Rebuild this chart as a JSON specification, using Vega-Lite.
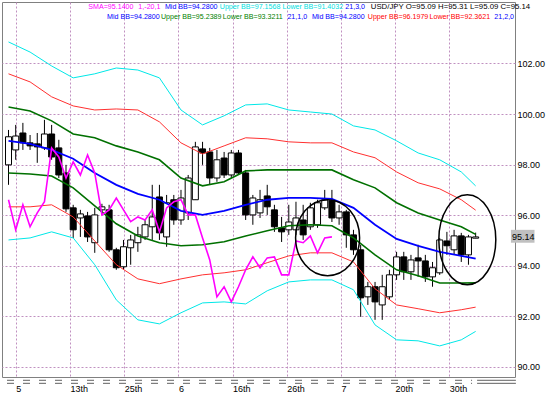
{
  "$schema": "https://vega.github.io/schema/vega-lite/v6.json",
  "width": 513,
  "height": 375,
  "autosize": {"type": "none"},
  "padding": {"left": 2, "top": 2, "right": 39, "bottom": 19},
  "background": "white",
  "config": {
    "view": {"stroke": "#808080", "strokeWidth": 1},
    "text": {"font": "Liberation Sans"}
  },
  "datasets": {
    "one": [{}],
    "candles": [
      {"i": 0, "o": 97.99, "h": 99.37, "l": 97.20, "c": 99.10},
      {"i": 1, "o": 98.58, "h": 99.57, "l": 98.19, "c": 99.13},
      {"i": 2, "o": 99.25, "h": 99.65, "l": 98.58, "c": 98.86},
      {"i": 3, "o": 98.86, "h": 99.17, "l": 98.58, "c": 98.74},
      {"i": 4, "o": 98.82, "h": 99.25, "l": 98.07, "c": 98.70},
      {"i": 5, "o": 98.66, "h": 99.77, "l": 98.58, "c": 99.21},
      {"i": 6, "o": 99.21, "h": 99.57, "l": 98.19, "c": 98.30},
      {"i": 7, "o": 98.66, "h": 98.98, "l": 97.47, "c": 97.59},
      {"i": 8, "o": 97.67, "h": 97.99, "l": 96.13, "c": 96.25},
      {"i": 9, "o": 96.29, "h": 96.41, "l": 95.10, "c": 95.42},
      {"i": 10, "o": 95.89, "h": 96.21, "l": 95.14, "c": 96.05},
      {"i": 11, "o": 95.97, "h": 96.13, "l": 94.94, "c": 95.14},
      {"i": 12, "o": 94.91, "h": 96.29, "l": 94.51, "c": 96.01},
      {"i": 13, "o": 96.21, "h": 96.45, "l": 96.01, "c": 96.33},
      {"i": 14, "o": 96.21, "h": 96.41, "l": 94.55, "c": 94.63},
      {"i": 15, "o": 94.63, "h": 94.71, "l": 93.84, "c": 93.92},
      {"i": 16, "o": 93.96, "h": 95.02, "l": 93.84, "c": 94.75},
      {"i": 17, "o": 94.71, "h": 95.22, "l": 94.04, "c": 95.02},
      {"i": 18, "o": 94.91, "h": 95.54, "l": 94.55, "c": 95.22},
      {"i": 19, "o": 95.14, "h": 95.81, "l": 95.02, "c": 95.62},
      {"i": 20, "o": 95.54, "h": 97.20, "l": 95.02, "c": 95.93},
      {"i": 21, "o": 96.72, "h": 97.20, "l": 95.02, "c": 95.30},
      {"i": 22, "o": 95.14, "h": 96.80, "l": 94.75, "c": 96.49},
      {"i": 23, "o": 96.61, "h": 96.80, "l": 95.62, "c": 95.81},
      {"i": 24, "o": 95.81, "h": 97.00, "l": 95.62, "c": 96.68},
      {"i": 25, "o": 96.09, "h": 97.59, "l": 95.81, "c": 97.47},
      {"i": 26, "o": 96.61, "h": 98.90, "l": 96.61, "c": 98.70},
      {"i": 27, "o": 98.62, "h": 98.90, "l": 97.99, "c": 98.46},
      {"i": 28, "o": 98.50, "h": 98.66, "l": 97.20, "c": 97.47},
      {"i": 29, "o": 97.47, "h": 98.58, "l": 97.32, "c": 98.19},
      {"i": 30, "o": 98.26, "h": 98.50, "l": 97.47, "c": 97.59},
      {"i": 31, "o": 97.59, "h": 98.58, "l": 97.47, "c": 98.46},
      {"i": 32, "o": 98.46, "h": 98.58, "l": 97.59, "c": 97.67},
      {"i": 33, "o": 97.67, "h": 97.79, "l": 95.81, "c": 96.01},
      {"i": 34, "o": 96.01, "h": 96.80, "l": 95.62, "c": 96.68},
      {"i": 35, "o": 96.09, "h": 97.00, "l": 95.89, "c": 96.61},
      {"i": 36, "o": 96.76, "h": 97.20, "l": 96.01, "c": 96.33},
      {"i": 37, "o": 96.21, "h": 96.41, "l": 95.34, "c": 95.54},
      {"i": 38, "o": 95.50, "h": 95.93, "l": 94.94, "c": 95.34},
      {"i": 39, "o": 95.42, "h": 96.41, "l": 95.22, "c": 95.73},
      {"i": 40, "o": 95.42, "h": 96.53, "l": 95.22, "c": 95.89},
      {"i": 41, "o": 95.81, "h": 96.41, "l": 95.02, "c": 95.22},
      {"i": 42, "o": 95.54, "h": 96.49, "l": 95.42, "c": 96.29},
      {"i": 43, "o": 95.62, "h": 96.61, "l": 95.50, "c": 96.49},
      {"i": 44, "o": 96.29, "h": 97.00, "l": 96.21, "c": 96.61},
      {"i": 45, "o": 96.57, "h": 97.00, "l": 95.73, "c": 95.89},
      {"i": 46, "o": 95.89, "h": 96.41, "l": 95.62, "c": 96.13},
      {"i": 47, "o": 96.13, "h": 96.21, "l": 94.71, "c": 95.22},
      {"i": 48, "o": 95.22, "h": 95.42, "l": 94.43, "c": 94.63},
      {"i": 49, "o": 94.63, "h": 94.83, "l": 91.98, "c": 92.73},
      {"i": 50, "o": 92.77, "h": 93.36, "l": 92.45, "c": 93.17},
      {"i": 51, "o": 93.17, "h": 93.36, "l": 91.86, "c": 92.57},
      {"i": 52, "o": 92.45, "h": 93.64, "l": 91.86, "c": 93.17},
      {"i": 53, "o": 92.77, "h": 93.84, "l": 92.65, "c": 93.64},
      {"i": 54, "o": 93.64, "h": 94.55, "l": 93.44, "c": 94.35},
      {"i": 55, "o": 94.35, "h": 94.55, "l": 93.44, "c": 93.76},
      {"i": 56, "o": 93.76, "h": 94.43, "l": 93.44, "c": 94.23},
      {"i": 57, "o": 94.31, "h": 94.83, "l": 93.56, "c": 94.19},
      {"i": 58, "o": 94.19, "h": 94.43, "l": 93.36, "c": 93.56},
      {"i": 59, "o": 93.56, "h": 94.15, "l": 93.17, "c": 93.92},
      {"i": 60, "o": 93.72, "h": 95.10, "l": 93.64, "c": 95.02},
      {"i": 61, "o": 94.98, "h": 95.34, "l": 94.43, "c": 94.79},
      {"i": 62, "o": 94.63, "h": 95.42, "l": 94.43, "c": 95.18},
      {"i": 63, "o": 95.18, "h": 95.30, "l": 94.15, "c": 94.43},
      {"i": 64, "o": 94.43, "h": 95.22, "l": 94.04, "c": 95.14},
      {"i": 65, "o": 95.09, "h": 95.31, "l": 95.09, "c": 95.14}
    ],
    "bands": [
      {"i": 0, "mid": 98.94, "u1": 100.28, "l1": 97.67, "u2": 101.59, "l2": 96.33, "u3": 102.85, "l3": 95.02},
      {"i": 3, "mid": 98.82, "u1": 100.12, "l1": 97.63, "u2": 101.27, "l2": 96.33, "u3": 102.45, "l3": 95.10},
      {"i": 6, "mid": 98.58, "u1": 99.73, "l1": 97.55, "u2": 100.68, "l2": 96.41, "u3": 101.90, "l3": 95.34},
      {"i": 9, "mid": 98.23, "u1": 99.21, "l1": 97.08, "u2": 100.32, "l2": 95.93, "u3": 101.43, "l3": 95.10},
      {"i": 12, "mid": 97.67, "u1": 99.06, "l1": 96.37, "u2": 100.16, "l2": 94.98, "u3": 101.59, "l3": 94.04},
      {"i": 15, "mid": 97.20, "u1": 98.74, "l1": 95.66, "u2": 100.20, "l2": 94.04, "u3": 101.82, "l3": 92.65},
      {"i": 18, "mid": 96.84, "u1": 98.50, "l1": 95.18, "u2": 100.16, "l2": 93.48, "u3": 101.74, "l3": 91.86},
      {"i": 21, "mid": 96.61, "u1": 98.19, "l1": 94.91, "u2": 99.69, "l2": 93.29, "u3": 101.43, "l3": 91.70},
      {"i": 24, "mid": 96.17, "u1": 97.47, "l1": 94.79, "u2": 98.86, "l2": 93.48, "u3": 100.16, "l3": 92.14},
      {"i": 27, "mid": 96.01, "u1": 97.16, "l1": 94.83, "u2": 98.42, "l2": 93.64, "u3": 99.57, "l3": 92.53},
      {"i": 30, "mid": 96.17, "u1": 97.32, "l1": 94.95, "u2": 98.74, "l2": 93.72, "u3": 99.93, "l3": 92.57},
      {"i": 33, "mid": 96.41, "u1": 97.75, "l1": 95.18, "u2": 99.06, "l2": 93.84, "u3": 100.36, "l3": 92.49},
      {"i": 36, "mid": 96.61, "u1": 97.79, "l1": 95.38, "u2": 99.02, "l2": 94.12, "u3": 100.40, "l3": 93.01},
      {"i": 39, "mid": 96.68, "u1": 97.79, "l1": 95.58, "u2": 98.90, "l2": 94.39, "u3": 100.16, "l3": 93.36},
      {"i": 42, "mid": 96.68, "u1": 97.79, "l1": 95.62, "u2": 98.86, "l2": 94.51, "u3": 100.08, "l3": 93.44},
      {"i": 45, "mid": 96.64, "u1": 97.79, "l1": 95.58, "u2": 98.86, "l2": 94.51, "u3": 100.00, "l3": 93.44},
      {"i": 48, "mid": 96.29, "u1": 97.40, "l1": 95.10, "u2": 98.50, "l2": 94.15, "u3": 99.53, "l3": 93.05},
      {"i": 51, "mid": 95.62, "u1": 97.08, "l1": 94.43, "u2": 98.27, "l2": 93.09, "u3": 99.37, "l3": 91.66},
      {"i": 54, "mid": 95.06, "u1": 96.49, "l1": 93.84, "u2": 97.71, "l2": 92.45, "u3": 98.94, "l3": 91.07},
      {"i": 57, "mid": 94.79, "u1": 96.09, "l1": 93.60, "u2": 97.28, "l2": 92.30, "u3": 98.46, "l3": 91.03},
      {"i": 60, "mid": 94.55, "u1": 95.81, "l1": 93.32, "u2": 97.04, "l2": 92.14, "u3": 98.19, "l3": 90.83},
      {"i": 63, "mid": 94.39, "u1": 95.54, "l1": 93.32, "u2": 96.61, "l2": 92.26, "u3": 97.71, "l3": 91.07},
      {"i": 65, "mid": 94.28, "u1": 95.2389, "l1": 93.3211, "u2": 96.1979, "l2": 92.3621, "u3": 97.1568, "l3": 91.4032}
    ],
    "sma": [
      {"i": 0, "v": 96.61}, {"i": 1, "v": 95.42}, {"i": 2, "v": 96.41}, {"i": 3, "v": 95.54},
      {"i": 4, "v": 96.09}, {"i": 5, "v": 96.53}, {"i": 6, "v": 98.66}, {"i": 7, "v": 98.30},
      {"i": 8, "v": 97.47}, {"i": 9, "v": 98.11}, {"i": 10, "v": 97.59}, {"i": 11, "v": 98.38},
      {"i": 12, "v": 97.67}, {"i": 13, "v": 96.01}, {"i": 14, "v": 96.21}, {"i": 15, "v": 96.68},
      {"i": 16, "v": 96.21}, {"i": 17, "v": 95.74}, {"i": 18, "v": 95.93}, {"i": 19, "v": 95.81},
      {"i": 20, "v": 96.21}, {"i": 21, "v": 95.34}, {"i": 22, "v": 96.29}, {"i": 23, "v": 96.53},
      {"i": 24, "v": 96.61}, {"i": 25, "v": 96.01}, {"i": 26, "v": 96.01}, {"i": 27, "v": 95.10},
      {"i": 28, "v": 94.23}, {"i": 29, "v": 92.77}, {"i": 30, "v": 93.17}, {"i": 31, "v": 92.57},
      {"i": 32, "v": 93.17}, {"i": 33, "v": 93.84}, {"i": 34, "v": 94.35}, {"i": 35, "v": 93.92},
      {"i": 36, "v": 94.31}, {"i": 37, "v": 94.35}, {"i": 38, "v": 93.64}, {"i": 39, "v": 93.64},
      {"i": 40, "v": 94.98}, {"i": 41, "v": 94.91}, {"i": 42, "v": 95.18}, {"i": 43, "v": 94.51},
      {"i": 44, "v": 95.10}, {"i": 45, "v": 95.14}
    ]
  },
  "layer": [
    {
      "data": {"name": "candles"},
      "mark": {"type": "rule", "color": "black", "strokeWidth": 1},
      "encoding": {
        "x": {
          "field": "i", "type": "quantitative",
          "scale": {"domain": [-0.21, 69.78], "nice": false, "zero": false},
          "axis": {
            "title": null,
            "values": [1.02, 8.56, 16.1, 23.64, 31.17, 38.71, 46.25, 53.79, 61.33],
            "labelExpr": "datum.value < 4 ? '5' : datum.value < 12 ? '13th' : datum.value < 20 ? '25th' : datum.value < 27 ? '6' : datum.value < 35 ? '16th' : datum.value < 42 ? '26th' : datum.value < 50 ? '7' : datum.value < 57 ? '20th' : '30th'",
            "grid": true, "gridColor": "#c090c0", "gridDash": [2, 2], "gridWidth": 1,
            "ticks": false, "domain": false,
            "labelAlign": "left", "labelBaseline": "top", "labelPadding": 7,
            "labelFont": "Liberation Sans", "labelFontSize": 9, "labelColor": "black",
            "labelFlush": false, "labelOverlap": false
          }
        },
        "y": {
          "field": "l", "type": "quantitative",
          "scale": {"domain": [89.60, 104.43], "nice": false, "zero": false},
          "axis": {
            "title": null, "orient": "right",
            "values": [90, 92, 94, 96, 98, 100, 102], "format": ".2f",
            "grid": true, "gridColor": "#c090c0", "gridDash": [2, 2], "gridWidth": 1,
            "ticks": false, "domain": false, "labelPadding": 2,
            "labelFont": "Liberation Sans", "labelFontSize": 9, "labelColor": "black"
          }
        },
        "y2": {"field": "h"}
      }
    },
    {
      "data": {"name": "candles"},
      "mark": {"type": "bar", "width": 6, "stroke": "black", "strokeWidth": 1},
      "encoding": {
        "x": {"field": "i", "type": "quantitative"},
        "y": {"field": "o", "type": "quantitative"},
        "y2": {"field": "c"},
        "fill": {"condition": {"test": "datum.c < datum.o", "value": "black"}, "value": "white"}
      }
    },
    {
      "data": {"name": "bands"},
      "mark": {"type": "line", "color": "#00e8e8", "strokeWidth": 1},
      "encoding": {"x": {"field": "i", "type": "quantitative"}, "y": {"field": "u3", "type": "quantitative"}}
    },
    {
      "data": {"name": "bands"},
      "mark": {"type": "line", "color": "#00e8e8", "strokeWidth": 1},
      "encoding": {"x": {"field": "i", "type": "quantitative"}, "y": {"field": "l3", "type": "quantitative"}}
    },
    {
      "data": {"name": "bands"},
      "mark": {"type": "line", "color": "#ff3030", "strokeWidth": 1},
      "encoding": {"x": {"field": "i", "type": "quantitative"}, "y": {"field": "u2", "type": "quantitative"}}
    },
    {
      "data": {"name": "bands"},
      "mark": {"type": "line", "color": "#ff3030", "strokeWidth": 1},
      "encoding": {"x": {"field": "i", "type": "quantitative"}, "y": {"field": "l2", "type": "quantitative"}}
    },
    {
      "data": {"name": "bands"},
      "mark": {"type": "line", "color": "#007000", "strokeWidth": 1.6},
      "encoding": {"x": {"field": "i", "type": "quantitative"}, "y": {"field": "u1", "type": "quantitative"}}
    },
    {
      "data": {"name": "bands"},
      "mark": {"type": "line", "color": "#007000", "strokeWidth": 1.6},
      "encoding": {"x": {"field": "i", "type": "quantitative"}, "y": {"field": "l1", "type": "quantitative"}}
    },
    {
      "data": {"name": "bands"},
      "mark": {"type": "line", "color": "#0000ff", "strokeWidth": 1.8},
      "encoding": {"x": {"field": "i", "type": "quantitative"}, "y": {"field": "mid", "type": "quantitative"}}
    },
    {
      "data": {"name": "sma"},
      "mark": {"type": "line", "color": "#ff00ff", "strokeWidth": 1.6},
      "encoding": {"x": {"field": "i", "type": "quantitative"}, "y": {"field": "v", "type": "quantitative"}}
    },
    {
      "data": {"name": "one"},
      "mark": {"type": "point", "filled": false, "stroke": "black", "strokeWidth": 1.5, "opacity": 1, "size": 4096,
        "shape": "M -1 0 C -1 -0.6559 -0.5523 -1.1875 0 -1.1875 C 0.5523 -1.1875 1 -0.6559 1 0 C 1 0.6559 0.5523 1.1875 0 1.1875 C -0.5523 1.1875 -1 0.6559 -1 0 Z"},
      "encoding": {"x": {"datum": 44.4}, "y": {"datum": 95.11}}
    },
    {
      "data": {"name": "one"},
      "mark": {"type": "point", "filled": false, "stroke": "black", "strokeWidth": 1.5, "opacity": 1, "size": 3249,
        "shape": "M -1 0 C -1 -0.872 -0.5523 -1.579 0 -1.579 C 0.5523 -1.579 1 -0.872 1 0 C 1 0.872 0.5523 1.579 0 1.579 C -0.5523 1.579 -1 0.872 -1 0 Z"},
      "encoding": {"x": {"datum": 63.84}, "y": {"datum": 95.03}}
    },
    {
      "data": {"name": "one"},
      "mark": {"type": "rule", "color": "#606060", "strokeWidth": 1, "strokeDash": [7, 9]},
      "encoding": {"x": {"datum": -0.21}, "x2": {"datum": 64.5}, "y": {"datum": 89.47}}
    },
    {
      "data": {"name": "one"},
      "mark": {"type": "rule", "color": "#606060", "strokeWidth": 1, "strokeDash": [7, 9]},
      "encoding": {"x": {"datum": -0.21}, "x2": {"datum": 64.5}, "y": {"datum": 89.35}}
    },
    {
      "data": {"name": "one"},
      "mark": {"type": "rule", "color": "#606060", "strokeWidth": 1},
      "encoding": {"x": {"datum": 65.2}, "x2": {"datum": 70.6}, "y": {"datum": 89.47}}
    },
    {
      "data": {"name": "one"},
      "mark": {"type": "rule", "color": "#606060", "strokeWidth": 1},
      "encoding": {"x": {"datum": 65.2}, "x2": {"datum": 70.6}, "y": {"datum": 89.35}}
    },
    {
      "data": {"name": "one"},
      "mark": {"type": "rect", "fill": "#c0c0c0"},
      "encoding": {"x": {"datum": 69.91}, "x2": {"datum": 73.19}, "y": {"datum": 94.91}, "y2": {"datum": 95.42}}
    },
    {
      "data": {"name": "one"},
      "mark": {"type": "text", "text": "95.14", "align": "left", "baseline": "middle", "fontSize": 9, "color": "black"},
      "encoding": {"x": {"datum": 70.05}, "y": {"datum": 95.14}}
    },
    {
      "data": {"name": "one"},
      "mark": {"type": "text", "text": "SMA=95.1400", "align": "left", "baseline": "middle", "fontSize": 7.1, "color": "#ff00ff"},
      "encoding": {"x": {"datum": 11.11}, "y": {"datum": 104.23}}
    },
    {
      "data": {"name": "one"},
      "mark": {"type": "text", "text": "1,-20,1", "align": "left", "baseline": "middle", "fontSize": 7.1, "color": "#ff00ff"},
      "encoding": {"x": {"datum": 18.07}, "y": {"datum": 104.23}}
    },
    {
      "data": {"name": "one"},
      "mark": {"type": "text", "text": "Mid BB=94.2800", "align": "left", "baseline": "middle", "fontSize": 7.1, "color": "#0000ff"},
      "encoding": {"x": {"datum": 21.76}, "y": {"datum": 104.23}}
    },
    {
      "data": {"name": "one"},
      "mark": {"type": "text", "text": "Upper BB=97.1568", "align": "left", "baseline": "middle", "fontSize": 7.1, "color": "#00e0e0"},
      "encoding": {"x": {"datum": 29.4}, "y": {"datum": 104.23}}
    },
    {
      "data": {"name": "one"},
      "mark": {"type": "text", "text": "Lower BB=91.4032", "align": "left", "baseline": "middle", "fontSize": 7.1, "color": "#00e0e0"},
      "encoding": {"x": {"datum": 38.13}, "y": {"datum": 104.23}}
    },
    {
      "data": {"name": "one"},
      "mark": {"type": "text", "text": "21,3,0", "align": "left", "baseline": "middle", "fontSize": 7.1, "color": "#0000ff"},
      "encoding": {"x": {"datum": 46.86}, "y": {"datum": 104.23}}
    },
    {
      "data": {"name": "one"},
      "mark": {"type": "text", "text": "USD/JPY O=95.09 H=95.31 L=95.09 C=95.14", "align": "left", "baseline": "middle", "fontSize": 7.8, "color": "black"},
      "encoding": {"x": {"datum": 50.41}, "y": {"datum": 104.23}}
    },
    {
      "data": {"name": "one"},
      "mark": {"type": "text", "text": "Mid BB=94.2800", "align": "left", "baseline": "middle", "fontSize": 7.1, "color": "#0000ff"},
      "encoding": {"x": {"datum": 13.71}, "y": {"datum": 103.84}}
    },
    {
      "data": {"name": "one"},
      "mark": {"type": "text", "text": "Upper BB=95.2389", "align": "left", "baseline": "middle", "fontSize": 7.1, "color": "#008000"},
      "encoding": {"x": {"datum": 21.21}, "y": {"datum": 103.84}}
    },
    {
      "data": {"name": "one"},
      "mark": {"type": "text", "text": "Lower BB=93.3211", "align": "left", "baseline": "middle", "fontSize": 7.1, "color": "#008000"},
      "encoding": {"x": {"datum": 29.81}, "y": {"datum": 103.84}}
    },
    {
      "data": {"name": "one"},
      "mark": {"type": "text", "text": "21,1,0", "align": "left", "baseline": "middle", "fontSize": 7.1, "color": "#0000ff"},
      "encoding": {"x": {"datum": 38.81}, "y": {"datum": 103.84}}
    },
    {
      "data": {"name": "one"},
      "mark": {"type": "text", "text": "Mid BB=94.2800", "align": "left", "baseline": "middle", "fontSize": 7.1, "color": "#0000ff"},
      "encoding": {"x": {"datum": 42.22}, "y": {"datum": 103.84}}
    },
    {
      "data": {"name": "one"},
      "mark": {"type": "text", "text": "Upper BB=96.1979", "align": "left", "baseline": "middle", "fontSize": 7.1, "color": "#ff0000"},
      "encoding": {"x": {"datum": 49.99}, "y": {"datum": 103.84}}
    },
    {
      "data": {"name": "one"},
      "mark": {"type": "text", "text": "Lower BB=92.3621", "align": "left", "baseline": "middle", "fontSize": 7.1, "color": "#ff0000"},
      "encoding": {"x": {"datum": 58.59}, "y": {"datum": 103.84}}
    },
    {
      "data": {"name": "one"},
      "mark": {"type": "text", "text": "21,2,0", "align": "left", "baseline": "middle", "fontSize": 7.1, "color": "#0000ff"},
      "encoding": {"x": {"datum": 67.6}, "y": {"datum": 103.84}}
    }
  ]
}
